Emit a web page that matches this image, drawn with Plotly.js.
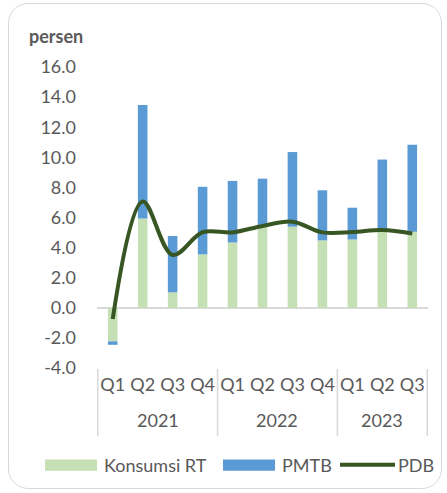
<!DOCTYPE html>
<html><head><meta charset="utf-8">
<script src="https://cdn.plot.ly/plotly-3.0.1.min.js"></script>
<style>
html,body{margin:0;padding:0;background:#fff;}
#wrap{position:relative;width:447px;height:493px;}
#chart{position:absolute;left:0;top:0;width:447px;height:493px;}
#frame{position:absolute;left:8px;top:3px;width:434px;height:486px;border:1.5px solid #d9d9d9;border-radius:20px;pointer-events:none;box-sizing:border-box;}
</style></head>
<body><div id="wrap"><div id="chart"></div><div id="frame"></div></div>
<script>
const quarters = ["Q1","Q2","Q3","Q4","Q1","Q2","Q3","Q4","Q1","Q2","Q3"];
const years = ["2021","2021","2021","2021","2022","2022","2022","2022","2023","2023","2023"];
const yearLabels = ["2021","2022","2023"];
const konsumsiRT = [-2.23, 5.93, 1.03, 3.55, 4.34, 5.51, 5.39, 4.48, 4.54, 5.22, 5.06];
const pmtb = [-0.23, 7.54, 3.74, 4.49, 4.09, 3.07, 4.96, 3.33, 2.11, 4.63, 5.77];
const pdb = [-0.74, 7.07, 3.51, 5.02, 5.01, 5.44, 5.72, 5.01, 5.03, 5.17, 4.94];
const yTicks = [-4, -2, 0, 2, 4, 6, 8, 10, 12, 14, 16];
const yTickText = ["-4.0","-2.0","0.0","2.0","4.0","6.0","8.0","10.0","12.0","14.0","16.0"];

const cats = quarters.map((q, i) => years[i] + " " + q);
const txt = "#595959";
const FONT = "Lato, 'Open Sans', sans-serif";

const traces = [
  {type:"bar", name:"Konsumsi RT", x:cats, y:konsumsiRT, marker:{color:"#C5E0B4"}, width:0.32, showlegend:false},
  {type:"bar", name:"PMTB", x:cats, y:pmtb, marker:{color:"#5B9BD5"}, width:0.32, showlegend:false},
  {type:"scatter", mode:"lines", name:"PDB", x:cats, y:pdb, line:{color:"#375623", width:4, shape:"spline", smoothing:1}, showlegend:false}
];

// year group centres (category index)
const groupCenters = [];
const groupBounds = [-0.5];
yearLabels.forEach(y => {
  const idx = years.map((v,i)=>v===y?i:-1).filter(i=>i>=0);
  groupCenters.push((idx[0]+idx[idx.length-1])/2);
  groupBounds.push(idx[idx.length-1]+0.5);
});

const shapes = groupBounds.map(b => ({type:"line", xref:"x", yref:"paper", x0:b, x1:b, y0:-0.003, y1:-0.226, line:{color:"#d9d9d9", width:1.5}}));
// manual legend
shapes.push({type:"rect", xref:"paper", yref:"paper", x0:-0.157, x1:0, y0:-0.3036, y1:-0.3417, fillcolor:"#C5E0B4", line:{width:0}});
shapes.push({type:"rect", xref:"paper", yref:"paper", x0:0.3807, x1:0.5378, y0:-0.3036, y1:-0.3417, fillcolor:"#5B9BD5", line:{width:0}});
shapes.push({type:"line", xref:"paper", yref:"paper", x0:0.7341, x1:0.9003, y0:-0.3218, y1:-0.3218, line:{color:"#375623", width:4}});

const annotations = yearLabels.map((y,i) => ({xref:"x", yref:"paper", x:groupCenters[i], y:-0.1725, text:y, showarrow:false, xanchor:"center", yanchor:"middle", font:{family:FONT, size:18, color:txt}}));
annotations.push({xref:"paper", yref:"paper", x:-0.2115, y:1.1015, text:"<b>persen</b>", showarrow:false, xanchor:"left", yanchor:"middle", font:{family:FONT, size:18, color:txt}});
[["Konsumsi RT",0.0151],["PMTB",0.5529],["PDB",0.9033]].forEach(([t,x]) => annotations.push({xref:"paper", yref:"paper", x:x, y:-0.3218, text:t, showarrow:false, xanchor:"left", yanchor:"middle", font:{family:FONT, size:18, color:txt}}));

const layout = {
  width:447, height:493,
  margin:{l:97, r:19, t:66.6, b:125},
  barmode:"relative",
  paper_bgcolor:"rgba(0,0,0,0)", plot_bgcolor:"rgba(0,0,0,0)",
  font:{family:FONT, size:18, color:txt},
  showlegend:false,
  xaxis:{type:"category", tickvals:cats, ticktext:quarters, showgrid:false, zeroline:false, showline:false, ticks:"", tickfont:{family:FONT, size:18, color:txt}, ticklabelstandoff:4},
  yaxis:{range:[-4,16], tickvals:yTicks, ticktext:yTickText, showgrid:false, zeroline:true, zerolinecolor:"#d9d9d9", zerolinewidth:1.5, showline:false, ticks:"", ticklabelstandoff:20, tickfont:{family:FONT, size:18, color:txt}},
  shapes:shapes,
  annotations:annotations
};
Plotly.newPlot("chart", traces, layout, {displayModeBar:false, staticPlot:true});
</script></body></html>
